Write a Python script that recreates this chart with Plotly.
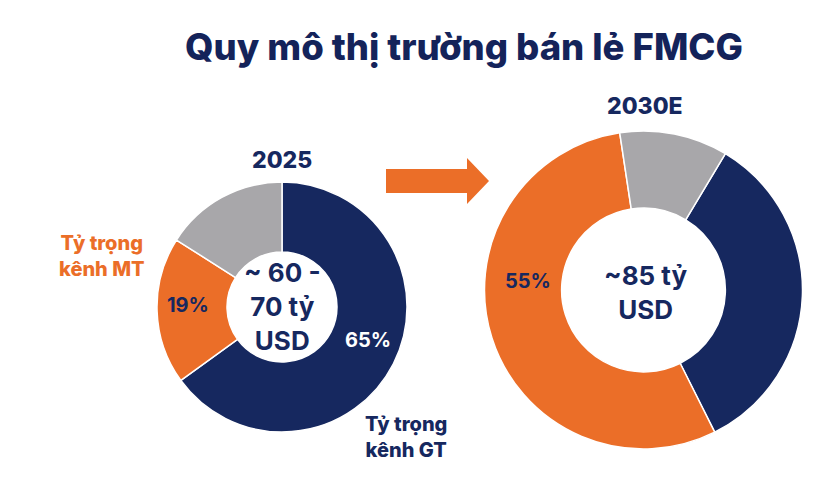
import plotly.graph_objects as go

# chart data
channels = ["Tỷ trọng kênh GT", "Tỷ trọng kênh MT", "Khác"]
share_2025 = [65, 19, 16]
share_2030 = [34, 55, 11]
years = ["2025", "2030E"]
size_2025 = "~ 60 -<br>70 tỷ<br>USD"
size_2030 = "~85 tỷ<br>USD"

NAVY = "#16285f"
ORANGE = "#eb6e28"
GRAY = "#a8a7aa"
colors = [NAVY, ORANGE, GRAY]

W, H = 832, 498
OFF = 8  # page body margin pushes the plot 8px right and down
FONT = "Inter"


def px(x):
    return (x - OFF) / W


def py(y):
    return 1 - (y - OFF) / H


fig = go.Figure()

fig.add_trace(go.Pie(
    labels=channels, values=share_2025, hole=0.44, sort=False,
    direction="clockwise", rotation=0,
    marker=dict(colors=colors, line=dict(color="white", width=1.5)),
    textinfo="none", hoverinfo="label+percent", showlegend=False,
    domain=dict(x=[px(157), px(407)], y=[py(432), py(182)]),
))

fig.add_trace(go.Pie(
    labels=channels, values=share_2030, hole=0.515, sort=False,
    direction="clockwise", rotation=31,
    marker=dict(colors=colors, line=dict(color="white", width=1.5)),
    textinfo="none", hoverinfo="label+percent", showlegend=False,
    domain=dict(x=[px(484), px(803)], y=[py(449), py(131)]),
))


def note(x, y, text, color=NAVY, size=19, weight=800):
    fig.add_annotation(
        x=px(x), y=py(y), xref="paper", yref="paper", text=text,
        showarrow=False, xanchor="center", yanchor="middle",
        font=dict(family=FONT, size=size, color=color, weight=weight),
    )


# year headers and centre totals
note(282, 160, years[0], size=23)
note(645, 106, years[1], size=23)
note(282, 306, size_2025, size=26, weight="bold")
note(645, 292, size_2030, size=26, weight="bold")

# slice labels
note(368, 340, f"{share_2025[0]}%", color="white", size=20, weight="bold")
note(188, 305, f"{share_2025[1]}%", size=20, weight="bold")
note(528, 281, f"{share_2030[1]}%", size=20, weight="bold")

# channel captions
note(102, 256, "Tỷ trọng<br>kênh MT", color=ORANGE, size=20)
note(406, 437, "Tỷ trọng<br>kênh GT", size=20)

# arrow between the two years
arrow = (f"M {px(386)} {py(169)} L {px(467)} {py(169)} L {px(467)} {py(158)} "
         f"L {px(489)} {py(181)} L {px(467)} {py(204)} L {px(467)} {py(193)} "
         f"L {px(386)} {py(193)} Z")
fig.add_shape(type="path", path=arrow, xref="paper", yref="paper",
              fillcolor=ORANGE, line=dict(width=0))

fig.update_layout(
    title=dict(text="Quy mô thị trường bán lẻ FMCG", x=px(464), y=py(47),
               xanchor="center", yanchor="middle",
               font=dict(family=FONT, size=36.5, color="#14235a", weight=800)),
    width=W, height=H,
    margin=dict(l=0, r=0, t=0, b=0),
    paper_bgcolor="white", plot_bgcolor="white",
)

fig.write_html("out.html")
